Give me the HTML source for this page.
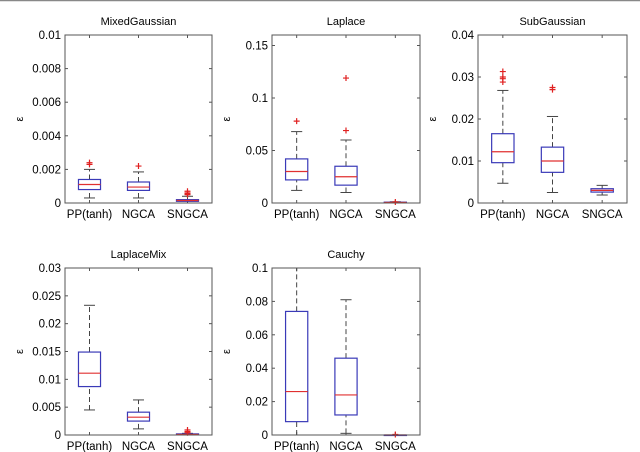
<!DOCTYPE html>
<html><head><meta charset="utf-8"><style>
body{margin:0;background:#fff;}
svg{display:block;font-family:"Liberation Sans",Arial,sans-serif;}
</style></head><body>
<svg id="fig" width="640" height="452" viewBox="0 0 640 452">
<line x1="0" y1="0.5" x2="640" y2="0.5" stroke="#888" stroke-width="1.5"/>
</svg>
<script>
const categories = ["PP(tanh)", "NGCA", "SNGCA"];
const panelTitles = ["MixedGaussian", "Laplace", "SubGaussian", "LaplaceMix", "Cauchy"];
const yMax = [0.01, 0.16, 0.04, 0.03, 0.1];
const yTicks = [
  [0, 0.002, 0.004, 0.006, 0.008, 0.01],
  [0, 0.05, 0.1, 0.15],
  [0, 0.01, 0.02, 0.03, 0.04],
  [0, 0.005, 0.01, 0.015, 0.02, 0.025, 0.03],
  [0, 0.02, 0.04, 0.06, 0.08, 0.1]
];
const yTickLabels = [
  ["0","0.002","0.004","0.006","0.008","0.01"],
  ["0","0.05","0.1","0.15"],
  ["0","0.01","0.02","0.03","0.04"],
  ["0","0.005","0.01","0.015","0.02","0.025","0.03"],
  ["0","0.02","0.04","0.06","0.08","0.1"]
];
// [whiskerLow, q1, median, q3, whiskerHigh] per category
const mixedGaussianStats = [[0.0003,0.0008,0.0011,0.0014,0.002],[0.0003,0.00075,0.00095,0.00125,0.00185],[0,0.0001,0.00015,0.0002,0.0004]];
const laplaceStats = [[0.012,0.022,0.030,0.042,0.068],[0.010,0.017,0.025,0.035,0.060],[0,0.0002,0.0005,0.0008,0.0012]];
const subGaussianStats = [[0.0047,0.0096,0.0122,0.0165,0.0268],[0.0025,0.0073,0.0100,0.0133,0.0206],[0.0019,0.0026,0.0030,0.0034,0.0042]];
const laplaceMixStats = [[0.0045,0.0087,0.0111,0.0149,0.0233],[0.0011,0.0025,0.0032,0.0041,0.0063],[0,0.00005,0.0001,0.0002,0.0003]];
const cauchyStats = [[0,0.008,0.026,0.074,0.1],[0.001,0.012,0.024,0.046,0.081],[0,0,0,0,0]];
const mixedGaussianOutliers = [[0.0023,0.0024],[0.0022],[0.0005,0.00055,0.0006,0.0007]];
const laplaceOutliers = [[0.078],[0.069,0.119],[0.001]];
const subGaussianOutliers = [[0.0288,0.0296,0.0300,0.0313],[0.027,0.0275],[]];
const laplaceMixOutliers = [[],[],[0.0004,0.0006,0.0009]];
const cauchyOutliers = [[],[],[0.0003]];

const allStats = [mixedGaussianStats, laplaceStats, subGaussianStats, laplaceMixStats, cauchyStats];
const allOutliers = [mixedGaussianOutliers, laplaceOutliers, subGaussianOutliers, laplaceMixOutliers, cauchyOutliers];
const frames = [[65,35,147,168],[272,35,148,168],[478,35,149,168],[65,268,147,167],[272,268,148,167]];

const svg = document.getElementById('fig');
const NS = 'http://www.w3.org/2000/svg';
function mk(tag, attrs, parent){
  const e = document.createElementNS(NS, tag);
  for (const k in attrs) e.setAttribute(k, attrs[k]);
  (parent||svg).appendChild(e);
  return e;
}
panelTitles.forEach((title, p) => {
  const [L,T,W,H] = frames[p];
  const g = mk('g', {});
  
  
  const xs = i => L + (i + 1 - 0.5) / 3 * W;
  const ys = v => T + H - v / yMax[p] * H;
  const t = mk('text', {x: L + W/2, y: T - 10, 'text-anchor':'middle', 'font-size':'11', fill:'#000'}, g);
  t.textContent = title;
  
  
  const yl = mk('text', {x: 0, y: 0, 'text-anchor':'middle', 'font-size':'11', transform:`translate(${L-42},${T+H/2}) rotate(-90)`}, g);
  yl.textContent = 'ε';
  
  
  yTicks[p].forEach((v, k) => {
    const y = ys(v);
    mk('line', {x1:L, x2:L+3, y1:y, y2:y, stroke:'#555'}, g);
    mk('line', {x1:L+W-3, x2:L+W, y1:y, y2:y, stroke:'#555'}, g);
    const tl = mk('text', {x:L-4, y:y+4, 'text-anchor':'end', 'font-size':'11.5'}, g);
    tl.textContent = yTickLabels[p][k];
    
    
  });
  categories.forEach((c, i) => {
    const x = xs(i);
    mk('line', {x1:x, x2:x, y1:T+H, y2:T+H-3, stroke:'#555'}, g);
    mk('line', {x1:x, x2:x, y1:T, y2:T+3, stroke:'#555'}, g);
    const xl = mk('text', {x:x, y:T+H+15, 'text-anchor':'middle', 'font-size':'11.5'}, g);
    xl.textContent = c;
    
    
    const s = allStats[p][i];
    const bw = W / 3 * 0.45;
    const box = mk('g', {}, g);
    
    
    mk('line', {x1:x, x2:x, y1:ys(s[0]), y2:ys(s[1]), stroke:'#444', 'stroke-dasharray':'5,3'}, box);
    mk('line', {x1:x, x2:x, y1:ys(s[3]), y2:ys(s[4]), stroke:'#444', 'stroke-dasharray':'5,3'}, box);
    mk('line', {x1:x-bw/4, x2:x+bw/4, y1:ys(s[0]), y2:ys(s[0]), stroke:'#444'}, box);
    mk('line', {x1:x-bw/4, x2:x+bw/4, y1:ys(s[4]), y2:ys(s[4]), stroke:'#444'}, box);
    mk('rect', {x:x-bw/2, y:ys(s[3]), width:bw, height:Math.max(ys(s[1])-ys(s[3]),0.5), fill:'none', stroke:'#3a3ab8', 'stroke-width':'1.2'}, box);
    mk('line', {x1:x-bw/2, x2:x+bw/2, y1:ys(s[2]), y2:ys(s[2]), stroke:'#e03030', 'stroke-width':'1.2'}, box);
    allOutliers[p][i].forEach(v => {
      const y = ys(v);
      const o = mk('path', {d:`M${x-3},${y}H${x+3}M${x},${y-3}V${y+3}`, stroke:'#e02020', 'stroke-width':'1.2'}, box);
      
      
    });
  });
  mk('rect', {x:L, y:T, width:W, height:H, fill:'none', stroke:'#555', 'stroke-width':'1'}, g);
});
</script>
</body></html>
